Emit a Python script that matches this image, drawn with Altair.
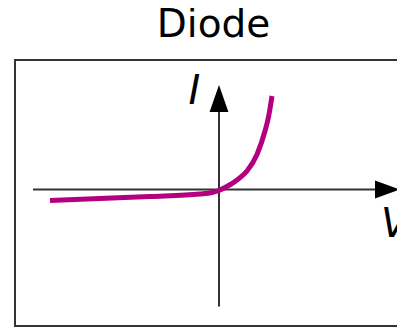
import altair as alt
import pandas as pd

# Diode I-V curve (arbitrary units, origin at axis crossing)
voltage = [-3.38, -2.38, -1.38, -0.38, -0.14, 0.0, 0.12, 0.36, 0.56, 0.76, 0.92, 0.99, 1.06]
current = [-0.22, -0.18, -0.14, -0.09, -0.06, -0.02, 0.04, 0.19, 0.37, 0.70, 1.17, 1.45, 1.87]

df = pd.DataFrame({"V": voltage, "I": current})
one = pd.DataFrame({"k": [0]})

W, H = 382, 266
xs = alt.Scale(domain=[-4.08, 3.56], nice=False, zero=False)
ys = alt.Scale(domain=[-2.73, 2.59], nice=False, zero=False)

box = alt.Chart(one).mark_rect(fillOpacity=0, stroke="#333333", strokeWidth=2).encode(
    x=alt.value(0), x2=alt.value(W + 40), y=alt.value(0), y2=alt.value(H)
)

haxis = alt.Chart(one).mark_rule(color="#333333", strokeWidth=2).encode(
    x=alt.datum(-3.72, scale=xs, axis=None), x2=alt.datum(3.3), y=alt.datum(0, scale=ys, axis=None)
)
vaxis = alt.Chart(one).mark_rule(color="#333333", strokeWidth=2).encode(
    x=alt.datum(0, scale=xs, axis=None), y=alt.datum(-2.34, scale=ys, axis=None), y2=alt.datum(1.75)
)

harrow = alt.Chart(one).mark_point(
    shape="M-1,-0.72L1,0L-1,0.72Z", filled=True, color="black", opacity=1, size=625, strokeWidth=0
).encode(x=alt.datum(3.37, scale=xs, axis=None), y=alt.datum(0, scale=ys, axis=None))

varrow = alt.Chart(one).mark_point(
    shape="M-0.7,1L0,-1L0.7,1Z", filled=True, color="black", opacity=1, size=729, strokeWidth=0
).encode(x=alt.datum(0, scale=xs, axis=None), y=alt.datum(1.82, scale=ys, axis=None))

curve = alt.Chart(df).mark_line(color="#b4007f", strokeWidth=5, interpolate="monotone").encode(
    x=alt.X("V:Q", scale=xs, axis=None), y=alt.Y("I:Q", scale=ys, axis=None)
)

lab_i = alt.Chart(one).mark_text(
    text="I", font="DejaVu Sans", fontStyle="italic", fontSize=40, color="black",
    align="center", baseline="alphabetic"
).encode(x=alt.datum(-0.49, scale=xs, axis=None), y=alt.datum(1.72, scale=ys, axis=None))

lab_v = alt.Chart(one).mark_text(
    text="V", font="DejaVu Sans", fontStyle="italic", fontSize=40, color="black",
    align="left", baseline="alphabetic"
).encode(x=alt.datum(3.24, scale=xs, axis=None), y=alt.datum(-0.95, scale=ys, axis=None))

chart = alt.layer(box, haxis, vaxis, harrow, varrow, curve, lab_i, lab_v).properties(
    width=W, height=H,
    autosize=alt.AutoSizeParams(type="none"),
    padding={"left": 7, "top": 52, "right": 0, "bottom": 1},
    title=alt.TitleParams(
        text="Diode", fontSize=39, font="DejaVu Sans", fontWeight="normal",
        color="black", anchor="middle", dx=7.5, offset=14
    ),
).configure_view(strokeWidth=0)

chart.save("out.html", embed_options={"renderer": "svg", "actions": False})
